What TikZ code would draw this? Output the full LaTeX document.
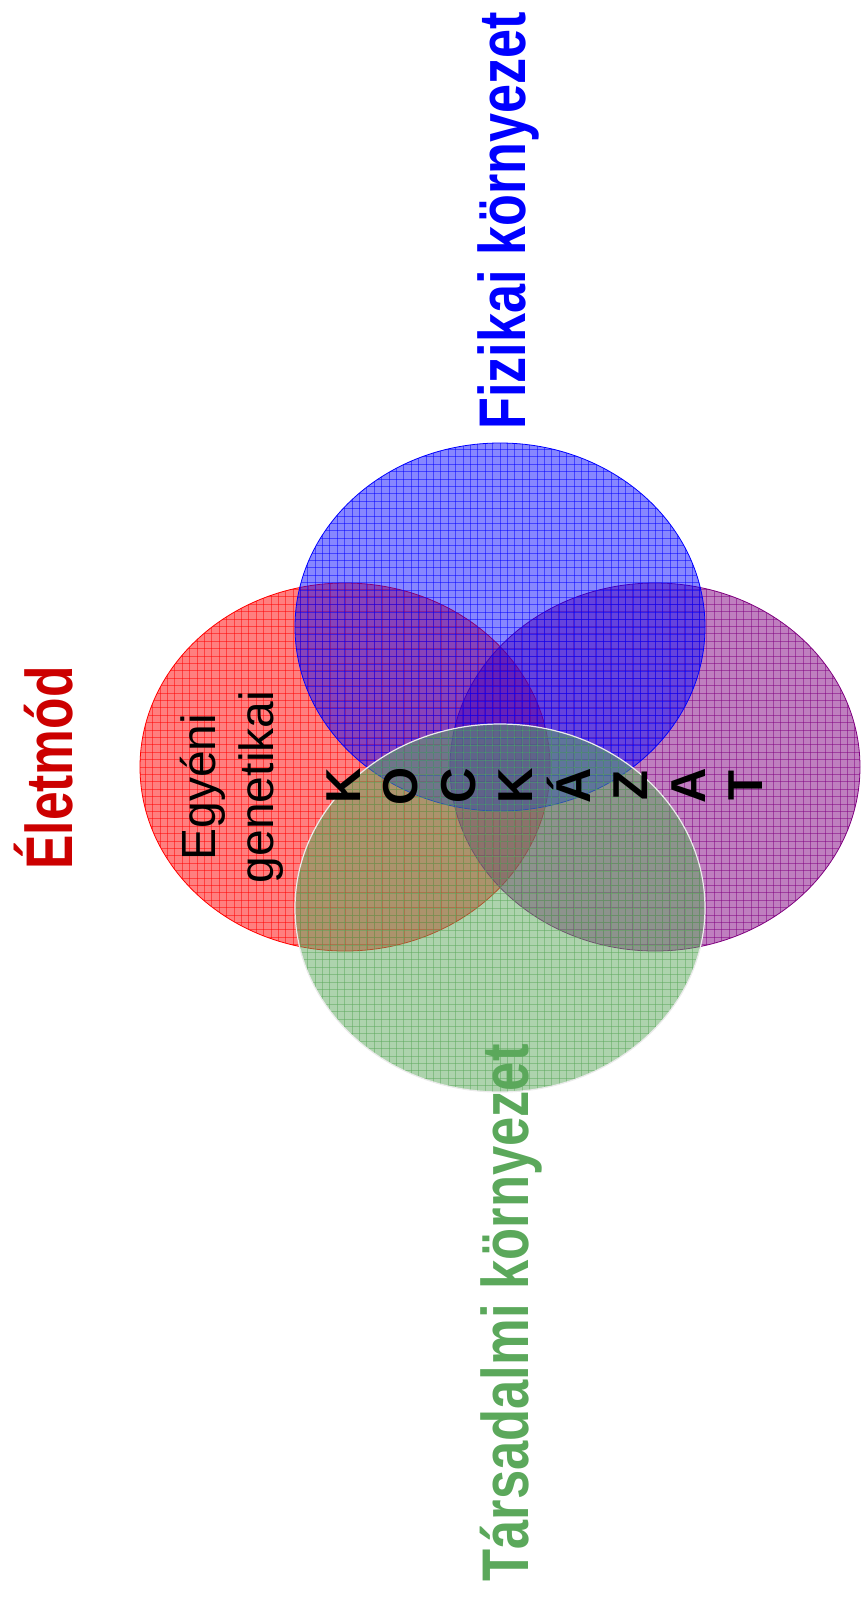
\documentclass[tikz,border=0pt]{standalone}
\usepackage{fontspec}
\setmainfont{Liberation Sans}
\usetikzlibrary{positioning, shapes.geometric}

\definecolor{lifered}{RGB}{204,0,0}
\definecolor{socgreen}{RGB}{91,168,91}
\definecolor{riskpurple}{RGB}{128,0,128}

\tikzset{
  blob/.style={ellipse, minimum width=410pt, minimum height=368pt, inner sep=0pt,
    draw=#1, line width=0.8pt, fill=#1, fill opacity=0.5,
    path picture={
      \foreach \g in {-28,...,28}
        \draw[#1, draw opacity=0.5, line width=0.7pt]
          ([xshift=\g*7.4pt]path picture bounding box.north) --
          ([xshift=\g*7.4pt]path picture bounding box.south);
      \foreach \g in {-25,...,25}
        \draw[#1, draw opacity=0.5, line width=0.7pt]
          ([yshift=\g*7.4pt]path picture bounding box.west) --
          ([yshift=\g*7.4pt]path picture bounding box.east);
    }},
  title/.style={rotate=90, anchor=base, font=\fontsize{66}{70}\selectfont\bfseries},
  letter/.style={rotate=90, anchor=base, font=\fontsize{49}{50}\selectfont\bfseries},
  gene/.style={rotate=90, anchor=base, font=\fontsize{48}{50}\selectfont}
}

\begin{document}
\begin{tikzpicture}[x=1pt, y=-1pt, node distance=2cm, on grid]
  \useasboundingbox (0,0) rectangle (860,1598);

  \node[blob=red] (red) at (345,767) {};
  \node[blob=riskpurple, right=310pt of red] (purple) {};
  \node[blob=blue, fill opacity=0.47] (blue) at (500,627) {};
  \node[blob=socgreen, draw=white!92!black, line width=1.2pt] (green) at (500,908) {};

  \node[title, blue, xscale=0.79] (phys) at (525,221) {Fizikai környezet};
  \node[title, socgreen, xscale=0.796] (soc) at (528,1313) {Társadalmi környezet};
  \node[title, lifered, xscale=0.78] (life) at (72,768) {Életmód};

  \node[gene] (gen1) at (215,787) {Egyéni};
  \node[gene] (gen2) at (273,787) {genetikai};

  \foreach \ch [count=\i from 0] in {K,O,C,K,Á,Z,A,T}
    \node[letter] (risk\i) at (360+57.57*\i,786) {\ch};
\end{tikzpicture}
\end{document}
